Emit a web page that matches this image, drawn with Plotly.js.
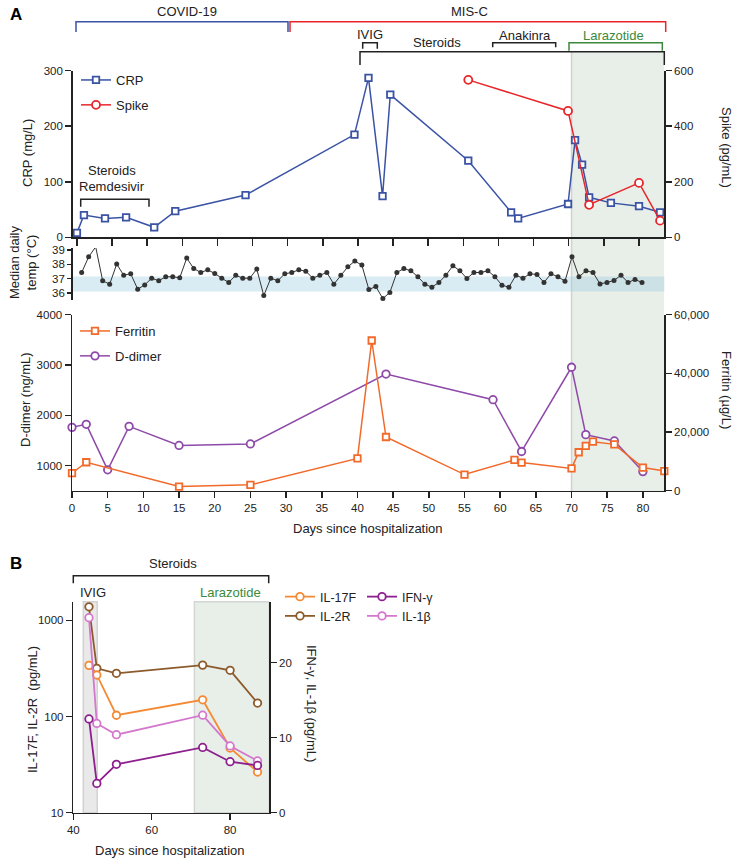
<!DOCTYPE html>
<html><head><meta charset="utf-8">
<script src="https://cdn.plot.ly/plotly-3.0.1.min.js"></script>
<style>html,body{margin:0;padding:0;background:#fff}</style>
</head><body><div id="chart" style="width:743px;height:864px"></div>
<script>
// ---------- Panel A data ----------
const crpDays=[0,1,4,7,11,14,24,39.5,41.5,43.5,44.6,55.7,61.8,62.8,69.9,70.9,71.9,72.9,76,80,83];
const crpValues=[8,40,34,36,18,47,76,185,287,74,257,138,45,34,60,175,131,72,62,56,45];
const spikeDays=[55.7,69.9,72.9,80,83];
const spikeValues=[567,455,117,196,60];
const tempDays=[1,2,3,4,5,6,7,8,9,10,11,12,13,14,15,16,17,18,19,20,21,22,23,24,25,26,27,28,29,30,31,32,33,34,35,36,37,38,39,40,41,42,43,44,45,46,47,48,49,50,51,52,53,54,55,56,57,58,59,60,61,62,63,64,65,66,67,68,69,70,71,72,73,74,75,76,77,78,79,80,81];
const tempValues=[37.43,38.53,39.23,36.85,36.61,38.02,37.24,37.34,36.26,36.56,37.03,36.85,37.13,37.13,37.06,38.44,37.71,37.43,37.62,37.36,37.03,36.73,37.24,37.03,37.03,37.67,35.81,37.03,36.85,37.34,37.43,37.62,37.52,37.03,37.24,37.43,36.61,37.24,37.83,38.23,37.95,36.24,36.44,35.6,36.03,37.43,37.71,37.55,37.13,36.61,36.4,36.73,37.24,37.9,37.55,37.01,37.43,37.43,37.55,37.13,36.54,36.4,37.24,37.03,37.34,37.29,36.73,37.34,37.13,36.82,38.53,37.13,37.55,37.43,36.63,36.73,36.87,37.24,36.73,36.94,36.73];
const ferritinDays=[0,2,15,25,40,42,44,55,62,63,70,71,72,73,76,80,83];
const ferritinValues=[6000,9700,1400,2000,11000,51200,18300,5500,10500,9600,7600,13100,15300,16700,15800,7900,6700];
const ddimerDays=[0,2,5,8,15,25,44,59,63,70,72,76,80];
const ddimerValues=[1760,1820,915,1780,1400,1430,2820,2310,1280,2955,1615,1490,880];
const tempBand=[36.1,37.15];
const larazotideA=[70,83];
// ---------- Panel B data ----------
const cytoDays=[44,46,51,73,80,87];
const il17f=[340,270,103,149,47,26.5];
const il2r=[1380,317,281,342,302,138];
const ifng=[12.5,3.9,6.45,8.7,6.8,6.3];
const il1b=[26,11.9,10.4,13.0,8.9,6.9];
const ivigB=[42.55,46.1];
const larazotideB=[70.9,90];

const W=743,H=864;
const X=p=>p/W, Y=p=>1-p/H;
const F='"Liberation Sans", Arial, Helvetica, sans-serif';
const K='#222';
const axB={showline:true,linecolor:K,linewidth:1.5,ticks:'outside',tickcolor:K,tickwidth:1.5,ticklen:6,showgrid:false,zeroline:false,tickfont:{family:F,size:11.5,color:K},fixedrange:true};

const cBlue='#3a53a4',cRed='#e8262a',cOr='#f26a2a',cPur='#8e4aa8';
const cIL17='#f58a34',cIL2='#8c5a2b',cIFN='#8e1f8e',cIL1='#d478cc';

function mk(sym,col,size){return {symbol:sym,size:size,color:'#fff',line:{color:col,width:1.8}};}

const traces=[
 {x:crpDays,y:crpValues,xaxis:'x',yaxis:'y',mode:'lines+markers',name:'CRP',line:{color:cBlue,width:1.5},marker:mk('square',cBlue,6.5),legend:'legend',legendgroup:'a1',cliponaxis:false},
 {x:spikeDays,y:spikeValues,xaxis:'x',yaxis:'y2',mode:'lines+markers',name:'Spike',line:{color:cRed,width:1.5},marker:mk('circle',cRed,8),legend:'legend',legendgroup:'a2',cliponaxis:false},
 {x:tempDays,y:tempValues,xaxis:'x2',yaxis:'y3',mode:'lines+markers',showlegend:false,line:{color:'#333',width:1},marker:{symbol:'circle',size:5,color:'#333'},cliponaxis:false},
 {x:ddimerDays,y:ddimerValues,xaxis:'x3',yaxis:'y4',mode:'lines+markers',name:'D-dimer',line:{color:cPur,width:1.5},marker:mk('circle',cPur,7.5),legend:'legend2',legendgroup:'b2',legendrank:2,cliponaxis:false},
 {x:ferritinDays,y:ferritinValues,xaxis:'x3',yaxis:'y5',mode:'lines+markers',name:'Ferritin',line:{color:cOr,width:1.5},marker:mk('square',cOr,6.5),legend:'legend2',legendgroup:'b1',legendrank:1,cliponaxis:false},
 {x:cytoDays,y:il2r,xaxis:'x4',yaxis:'y6',mode:'lines+markers',name:'IL-2R',line:{color:cIL2,width:1.8},marker:mk('circle',cIL2,7.5),legend:'legend3',legendgroup:'c2',legendrank:2,cliponaxis:false},
 {x:cytoDays,y:il17f,xaxis:'x4',yaxis:'y6',mode:'lines+markers',name:'IL-17F',line:{color:cIL17,width:1.8},marker:mk('circle',cIL17,7.5),legend:'legend3',legendgroup:'c1',legendrank:1,cliponaxis:false},
 {x:cytoDays,y:il1b,xaxis:'x4',yaxis:'y7',mode:'lines+markers',name:'IL-1β',line:{color:cIL1,width:1.8},marker:mk('circle',cIL1,7.5),legend:'legend4',legendgroup:'d2',legendrank:2,cliponaxis:false},
 {x:cytoDays,y:ifng,xaxis:'x4',yaxis:'y7',mode:'lines+markers',name:'IFN-γ',line:{color:cIFN,width:1.8},marker:mk('circle',cIFN,7.5),legend:'legend4',legendgroup:'d1',legendrank:1,cliponaxis:false}
];

function br(x0,x1,y,yl,col,w){return {type:'path',xref:'paper',yref:'paper',path:`M${X(x0)},${Y(yl)} L${X(x0)},${Y(y)} L${X(x1)},${Y(y)} L${X(x1)},${Y(yl)}`,line:{color:col,width:w||1.5}};}
const shapes=[
 {type:'rect',xref:'x3',yref:'paper',x0:larazotideA[0],x1:larazotideA[1],y0:Y(491),y1:Y(52),fillcolor:'#e8eee8',line:{width:0},layer:'below'},
 {type:'line',xref:'x3',yref:'paper',x0:larazotideA[0],x1:larazotideA[0],y0:Y(491),y1:Y(52),line:{color:'#cfd3cf',width:1.5},layer:'below'},
 {type:'rect',xref:'x2 domain',yref:'y3',x0:0,x1:1,y0:tempBand[0],y1:tempBand[1],fillcolor:'rgba(160,205,225,0.4)',line:{width:0},layer:'below'},
 {type:'rect',xref:'x4',yref:'y6 domain',x0:ivigB[0],x1:ivigB[1],y0:0,y1:1,fillcolor:'#e9e9e9',line:{color:'#d2d2d2',width:1.5},layer:'below'},
 {type:'rect',xref:'x4',yref:'y6 domain',x0:larazotideB[0],x1:larazotideB[1],y0:0,y1:1,fillcolor:'#e8eee8',line:{color:'#d2d5d2',width:1.5},layer:'below'},
 br(76,288,21.7,32,cBlue),
 br(290,665.7,21.7,32,cRed),
 br(362.7,377.3,42.7,48.7,K),
 br(360,664.3,51.7,65,K),
 br(492.7,555.7,42.7,47.3,K),
 br(569,662.3,42.7,50.7,'#3b8a3b'),
 br(80.7,149,199.3,206.7,K),
 br(73.3,268.7,575.7,583.3,K)
];

function an(t,x,y,o){return Object.assign({text:t,x:X(x),y:Y(y),xref:'paper',yref:'paper',showarrow:false,xanchor:'center',yanchor:'middle',font:{family:F,size:13,color:K}},o||{});}
const annotations=[
 an('<b>A</b>',16,14,{font:{family:F,size:17,color:'#000'}}),
 an('COVID-19',187,12),
 an('MIS-C',470,12),
 an('IVIG',370,34),
 an('Steroids',437,42),
 an('Anakinra',525,35),
 an('Larazotide',613,35,{font:{family:F,size:13,color:'#3b8a3b'}}),
 an('Steroids',112,170),
 an('Remdesivir',112,186),
 an('CRP (mg/L)',27,153,{textangle:-90}),
 an('Spike (pg/mL)',726,147,{textangle:90}),
 an('Median daily<br>temp (°C)',23,263,{textangle:-90}),
 an('D-dimer (ng/mL)',25,400,{textangle:-90}),
 an('Ferritin (µg/L)',726,390,{textangle:90}),
 an('Days since hospitalization',368,528),
 an('<b>B</b>',16,563,{font:{family:F,size:17,color:'#000'}}),
 an('Steroids',173,563),
 an('IVIG',93,592),
 an('Larazotide',230,592,{font:{family:F,size:13,color:'#3b8a3b'}}),
 an('IL-17F, IL-2R  (pg/mL)',32,710,{textangle:-90}),
 an('IFN-γ, IL-1β (pg/mL)',312,703,{textangle:90}),
 an('Days since hospitalization',170,850)
];

const lg=(x,y,size,gap)=>({x:X(x),y:Y(y),xanchor:'left',yanchor:'top',bgcolor:'rgba(0,0,0,0)',borderwidth:0,font:{family:F,size:size,color:K},tracegroupgap:gap});

const layout={
 width:W,height:H,margin:{l:0,r:0,t:0,b:0},paper_bgcolor:'#fff',plot_bgcolor:'rgba(0,0,0,0)',
 font:{family:F,color:K},
 xaxis:Object.assign({},axB,{domain:[X(72.7),X(664.3)],anchor:'y',range:[-0.6,83.6],tickvals:[0,5,10,15,20,25,30,35,40,45,50,55,60,65,70,75,80],showticklabels:false,ticklen:7}),
 yaxis:Object.assign({},axB,{domain:[Y(237.3),Y(70.7)],anchor:'x',range:[0,300],tickvals:[0,100,200,300]}),
 yaxis2:Object.assign({},axB,{overlaying:'y',side:'right',anchor:'x',range:[0,600],tickvals:[0,200,400,600]}),
 xaxis2:{domain:[X(72.7),X(664.3)],anchor:'y3',range:[-0.28,84.18],showline:false,showticklabels:false,ticks:'',showgrid:false,zeroline:false,fixedrange:true},
 yaxis3:Object.assign({},axB,{domain:[Y(300),Y(248)],anchor:'x2',range:[35.5,39.15],tickvals:[36,37,38,39],ticklen:4}),
 xaxis3:Object.assign({},axB,{domain:[X(72),X(664.3)],anchor:'y4',range:[0,83],tickvals:[0,5,10,15,20,25,30,35,40,45,50,55,60,65,70,75,80],ticklen:6}),
 yaxis4:Object.assign({},axB,{domain:[Y(490.7),Y(314.7)],anchor:'x3',range:[500,4000],tickvals:[1000,2000,3000,4000]}),
 yaxis5:Object.assign({},axB,{overlaying:'y4',side:'right',anchor:'x3',range:[0,60000],tickvals:[0,20000,40000,60000],ticktext:['0','20,000','40,000','60,000']}),
 xaxis4:Object.assign({},axB,{domain:[X(73.3),X(269.3)],anchor:'y6',range:[40,90],tickvals:[40,60,80]}),
 yaxis6:Object.assign({},axB,{type:'log',domain:[Y(812.7),Y(601.7)],anchor:'x4',range:[1,3.193],tickvals:[10,100,1000]}),
 yaxis7:Object.assign({},axB,{overlaying:'y6',side:'right',anchor:'x4',range:[0,28.13],tickvals:[0,10,20]}),
 legend:lg(76,65,13,5),
 legend2:lg(75,316,13,5),
 legend3:lg(280,582,12.5,0),
 legend4:lg(362,582,12.5,0),
 shapes:shapes,annotations:annotations,showlegend:true
};
Plotly.newPlot('chart',traces,layout,{staticPlot:true,displayModeBar:false});
</script></body></html>
